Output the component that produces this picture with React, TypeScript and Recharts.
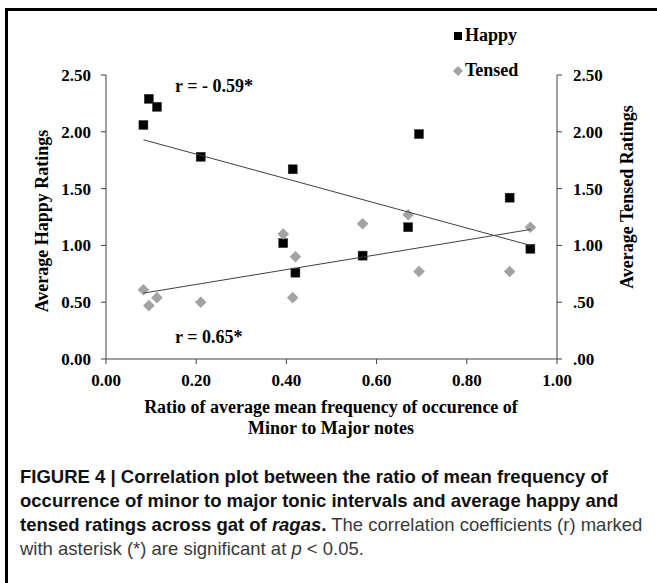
import { ScatterChart, Scatter, XAxis, YAxis, Legend } from "recharts";

// ratio of minor to major notes, one value per raga
const ratioValues = [0.083, 0.095, 0.113, 0.21, 0.393, 0.414, 0.42, 0.569, 0.67, 0.694, 0.895, 0.941];
const happyRatings = [2.06, 2.29, 2.22, 1.78, 1.02, 1.67, 0.76, 0.91, 1.16, 1.98, 1.42, 0.97];
const tensedRatings = [0.61, 0.47, 0.54, 0.5, 1.1, 0.54, 0.9, 1.19, 1.27, 0.77, 0.77, 1.16];

// linear trend end points
const trendX = [0.083, 0.941];
const happyTrend = [1.93, 1.0];
const tensedTrend = [0.58, 1.14];

const xTicks = [0, 0.2, 0.4, 0.6, 0.8, 1.0];
const yTicks = [0, 0.5, 1.0, 1.5, 2.0, 2.5];

const happyData = ratioValues.map((x, i) => ({ x, y: happyRatings[i] }));
const tensedData = ratioValues.map((x, i) => ({ x, y: tensedRatings[i] }));
const happyLine = trendX.map((x, i) => ({ x, y: happyTrend[i] }));
const tensedLine = trendX.map((x, i) => ({ x, y: tensedTrend[i] }));

const SERIF = "'Liberation Serif', 'Times New Roman', serif";
const SANS = "'Liberation Sans', Arial, Helvetica, sans-serif";
const tickStyle = { fill: "#000", fontSize: 17, fontFamily: SERIF, fontWeight: 700 };

const SquareDot = (props: any) => {
  const { cx, cy } = props;
  return <rect x={cx - 4.5} y={cy - 4.5} width={9} height={9} fill="#000" stroke="#333" strokeWidth={0.5} />;
};

const DiamondDot = (props: any) => {
  const { cx, cy } = props;
  const r = 5.8;
  return <path d={`M${cx},${cy - r}L${cx + r},${cy}L${cx},${cy + r}L${cx - r},${cy}Z`} fill="#a3a3a3" />;
};

const NoDot = () => <g />;

const LegendBox = () => (
  <div style={{ fontFamily: SERIF, fontWeight: 700, fontSize: 18, color: "#000", lineHeight: "35px" }}>
    <div style={{ display: "flex", alignItems: "center" }}>
      <svg width={12} height={12}>
        <rect x={2} y={2} width={8} height={8} fill="#000" />
      </svg>
      <span style={{ marginLeft: 1 }}>Happy</span>
    </div>
    <div style={{ display: "flex", alignItems: "center" }}>
      <svg width={12} height={12}>
        <path d="M6,1L11,6L6,11L1,6Z" fill="#a3a3a3" />
      </svg>
      <span style={{ marginLeft: 1 }}>Tensed</span>
    </div>
  </div>
);

const fmtLeft = (v: number) => v.toFixed(2);
const fmtRight = (v: number) => v.toFixed(2).replace(/^0/, "");

export default function App() {
  return (
    <div style={{ position: "absolute", left: 0, top: 0, width: 657, height: 583, overflow: "hidden", background: "#fff" }}>
      <div
        style={{
          position: "absolute",
          left: 5,
          top: 8,
          width: 800,
          height: 800,
          border: "3px solid #000",
          boxSizing: "border-box",
        }}
      />
      <div style={{ position: "absolute", left: 0, top: 0 }}>
        <ScatterChart width={657} height={460} margin={{ top: 75, right: 40, bottom: 71, left: 56 }}>
          <XAxis
            type="number"
            dataKey="x"
            domain={[0, 1]}
            ticks={xTicks}
            tickFormatter={fmtLeft}
            height={30}
            stroke="#404040"
            tickSize={5}
            tickMargin={10}
            tick={tickStyle}
          />
          <YAxis
            yAxisId="left"
            type="number"
            dataKey="y"
            domain={[0, 2.5]}
            ticks={yTicks}
            tickFormatter={fmtLeft}
            width={50}
            stroke="#404040"
            tickSize={5}
            tickMargin={10}
            tick={tickStyle}
          />
          <YAxis
            yAxisId="right"
            orientation="right"
            type="number"
            dataKey="y"
            domain={[0, 2.5]}
            ticks={yTicks}
            tickFormatter={fmtRight}
            width={60}
            stroke="#404040"
            tickSize={5}
            tickMargin={11}
            tick={tickStyle}
          />
          <Legend
            layout="horizontal"
            verticalAlign="middle"
            align="center"
            content={LegendBox}
            wrapperStyle={{ left: 452, top: 18, width: 110 }}
          />
          <Scatter name="Happy" yAxisId="left" data={happyData} shape={SquareDot} isAnimationActive={false} />
          <Scatter name="Tensed" yAxisId="right" data={tensedData} shape={DiamondDot} isAnimationActive={false} />
          <Scatter
            name="Happy trend"
            yAxisId="left"
            data={happyLine}
            shape={NoDot}
            line={{ stroke: "#404040", strokeWidth: 1 }}
            isAnimationActive={false}
            legendType="none"
          />
          <Scatter
            name="Tensed trend"
            yAxisId="right"
            data={tensedLine}
            shape={NoDot}
            line={{ stroke: "#404040", strokeWidth: 1 }}
            isAnimationActive={false}
            legendType="none"
          />
        </ScatterChart>
      </div>
      <svg
        width={657}
        height={460}
        style={{ position: "absolute", left: 0, top: 0, pointerEvents: "none" }}
        fontFamily={SERIF}
        fontWeight={700}
        fill="#000"
      >
        <text x={175} y={92} fontSize={18}>
          r = - 0.59*
        </text>
        <text x={175} y={343} fontSize={18}>
          r =  0.65*
        </text>
        <text x={42} y={221} fontSize={18} textAnchor="middle" dominantBaseline="central" transform="rotate(-90 42 221)">
          Average Happy Ratings
        </text>
        <text x={627} y={197} fontSize={18} textAnchor="middle" dominantBaseline="central" transform="rotate(-90 627 197)">
          Average Tensed Ratings
        </text>
        <text x={331} y={413} fontSize={18} textAnchor="middle">
          Ratio of average mean frequency of occurence of
        </text>
        <text x={331} y={434} fontSize={18} textAnchor="middle">
          Minor to Major notes
        </text>
      </svg>
      <div
        style={{
          position: "absolute",
          left: 20,
          top: 465,
          fontFamily: SANS,
          fontSize: 18.5,
          lineHeight: "24px",
          color: "#3a3a3a",
          whiteSpace: "nowrap",
        }}
      >
        <div style={{ fontWeight: 700, color: "#111" }}>
          FIGURE 4 | Correlation plot between the ratio of mean frequency of
        </div>
        <div style={{ fontWeight: 700, color: "#111" }}>
          occurrence of minor to major tonic intervals and average happy and
        </div>
        <div>
          <span style={{ fontWeight: 700, color: "#111" }}>
            tensed ratings across gat of <i>ragas</i>.
          </span>{" "}
          The correlation coefficients (r) marked
        </div>
        <div>
          with asterisk (*) are significant at <i>p</i> &lt; 0.05.
        </div>
      </div>
    </div>
  );
}
